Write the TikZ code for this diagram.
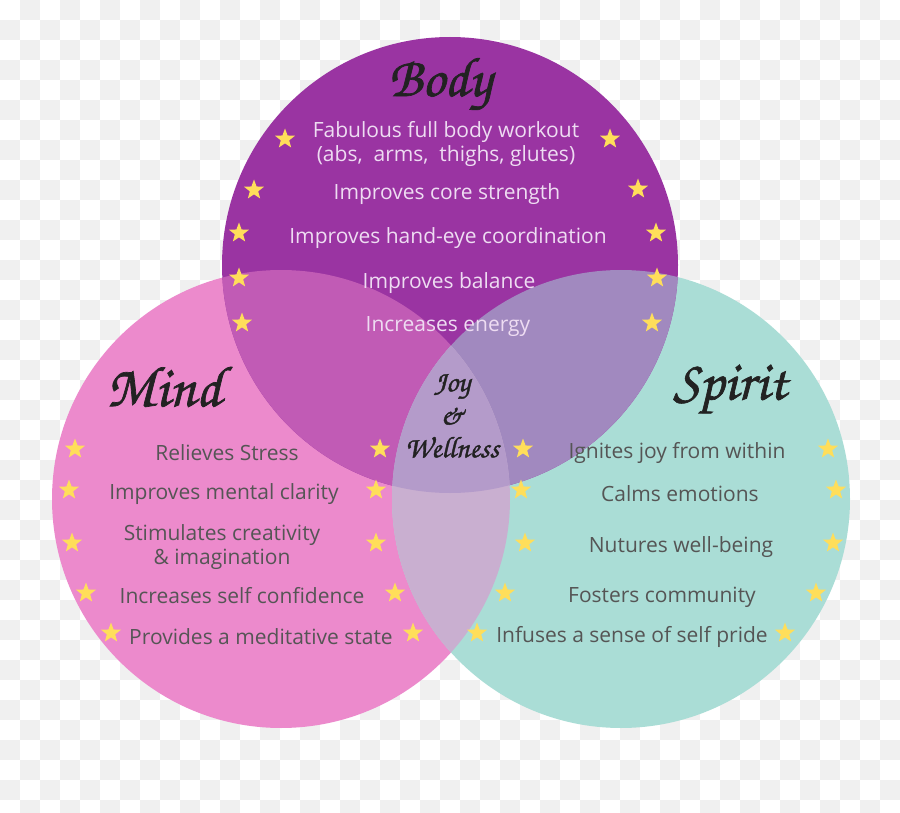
\documentclass[tikz,border=0pt]{standalone}
\usepackage{fontspec}
\setmainfont{Open Sans}
\newfontfamily\chorusfont[FakeBold=1.2]{texgyrechorus-mediumitalic.otf}
\usetikzlibrary{shapes.geometric,positioning}

\definecolor{bodycol}{HTML}{9A34A2}
\definecolor{mindcol}{HTML}{EC8ACC}
\definecolor{spiritcol}{HTML}{AADDD6}
\definecolor{bmcol}{HTML}{C15BB5}
\definecolor{bscol}{HTML}{A189BF}
\definecolor{mscol}{HTML}{C9AFD0}
\definecolor{bmscol}{HTML}{B49BCA}
\definecolor{starcol}{HTML}{FFDE5A}
\definecolor{checkcol}{HTML}{F0F0F0}
\definecolor{lighttxt}{HTML}{EEDCF2}
\definecolor{graytxt}{HTML}{555555}
\definecolor{titletxt}{HTML}{222222}

\tikzset{
  starmark/.style={star, star points=5, star point ratio=2.4, fill=starcol, minimum size=21pt, inner sep=0pt},
  item/.style={align=center, inner sep=0pt, font=\fontsize{21}{24}\selectfont},
  bodyitem/.style={item, text=lighttxt},
  sideitem/.style={item, text=graytxt},
  title/.style={text=titletxt, inner sep=0pt, font=\chorusfont\fontsize{58}{62}\selectfont}
}

\begin{document}
\begin{tikzpicture}[x=1pt, y=-1pt]
      \useasboundingbox (0,0) rectangle (900,813);
      % checkered background
      \fill[white] (0,0) rectangle (900,813);
      \foreach \i in {0,...,44}
        \foreach \j in {0,...,40} {
          \pgfmathtruncatemacro{\odd}{mod(\i+\j,2)}
          \ifnum\odd=1 \fill[checkcol] (20*\i,20*\j) rectangle ++(20,20); \fi
        }

      \coordinate (bodyc) at (450,265);
      \coordinate (mindc) at (281,499);
      \coordinate (spiritc) at (621,499);

      % circles
      \fill[mindcol] (mindc) circle[radius=229pt];
      \fill[spiritcol] (spiritc) circle[radius=229pt];
      \fill[bodycol] (bodyc) circle[radius=228pt];

      % overlaps
      \begin{scope}
        \clip (bodyc) circle[radius=228pt];
        \fill[bmcol] (mindc) circle[radius=229pt];
        \fill[bscol] (spiritc) circle[radius=229pt];
      \end{scope}
      \begin{scope}
        \clip (mindc) circle[radius=229pt];
        \fill[mscol] (spiritc) circle[radius=229pt];
        \clip (spiritc) circle[radius=229pt];
        \fill[bmscol] (bodyc) circle[radius=228pt];
      \end{scope}

      % titles
      \node[title, font=\chorusfont\fontsize{56}{60}\selectfont] (body) at (440,84) {Body};
      \node[title] (mind) at (164,387) {Mind};
      \node[title, font=\chorusfont\fontsize{56}{60}\selectfont] (spirit) at (730,389) {Spirit};
      \node[text=titletxt, align=center, font=\chorusfont\fontsize{30}{33}\selectfont] (joy) at (452,416) {Joy\\\&\\Wellness};

      % body items
      \node[bodyitem] (b1) at (446,144) {Fabulous full body workout\\(abs,\ \ arms,\ \ thighs, glutes)};
      \node[bodyitem] (b2) at (447,194) {Improves core strength};
      \node[bodyitem] (b3) at (448,238) {Improves hand-eye coordination};
      \node[bodyitem] (b4) at (449,283) {Improves balance};
      \node[bodyitem] (b5) at (448,327) {Increases energy};

      % mind items
      \node[sideitem] (m1) at (227,453) {Relieves Stress};
      \node[sideitem] (m2) at (224,494) {Improves mental clarity};
      \node[sideitem] (m3) at (222,547) {Stimulates creativity\\\& imagination};
      \node[sideitem] (m4) at (242,596) {Increases self confidence};
      \node[sideitem] (m5) at (261,637) {Provides a meditative state};

      % spirit items
      \node[sideitem] (s1) at (677,453) {Ignites joy from within};
      \node[sideitem] (s2) at (680,494) {Calms emotions};
      \node[sideitem] (s3) at (681,547) {Nutures well-being};
      \node[sideitem] (s4) at (662,597) {Fosters community};
      \node[sideitem] (s5) at (632,637) {Infuses a sense of self pride};

      % stars
      \foreach \x/\y [count=\k] in {285/139,610/139,254/190,638/189,239/233,656/233,239/278,657/278,242/323,652/323}
        \node[starmark] (bstar\k) at (\x,\y) {};
      \foreach \x/\y [count=\k] in {75/449,380/449,69/490,376/490,72/543,376/543,86/593,395/593,111/633,413/633}
        \node[starmark] (mstar\k) at (\x,\y) {};
      \foreach \x/\y [count=\k] in {523/449,828/449,521/490,836/490,525/543,833/543,505/593,816/593,477/633,785/633}
        \node[starmark] (sstar\k) at (\x,\y) {};
    \end{tikzpicture}
\end{document}
